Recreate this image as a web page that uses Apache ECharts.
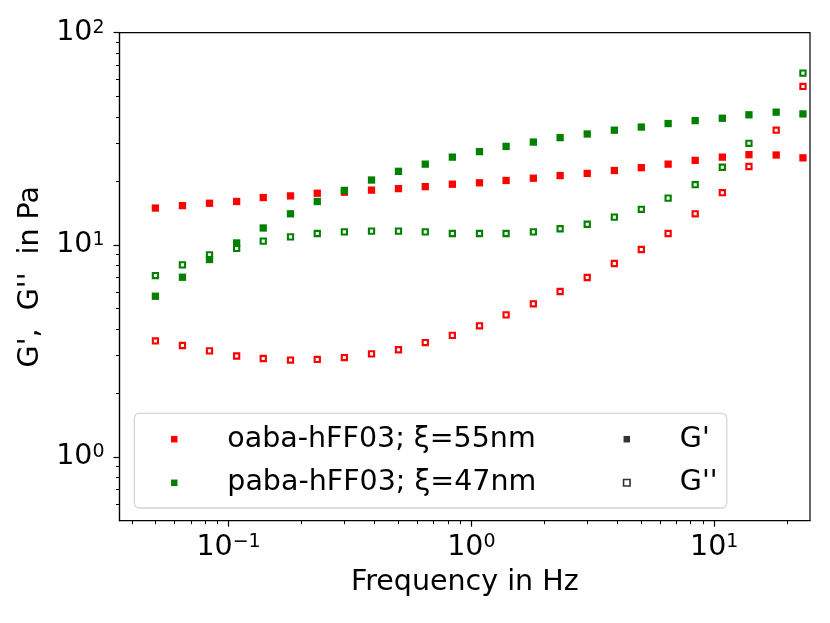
<!DOCTYPE html>
<html>
<head>
<meta charset="utf-8">
<script src="https://cdn.jsdelivr.net/npm/echarts@6.0.0/dist/echarts.min.js"></script>
<style>
  html, body { margin: 0; padding: 0; background: #fff; }
  #chart { width: 830px; height: 623px; }
</style>
</head>
<body>
<div id="chart"></div>
<script>
// frequency sweep (Hz)
var freq = [0.05, 0.0646, 0.0835, 0.108, 0.139, 0.18, 0.232, 0.3, 0.388, 0.501, 0.646, 0.835,
            1.08, 1.39, 1.8, 2.32, 3.0, 3.88, 5.01, 6.46, 8.35, 10.8, 13.9, 18.0, 23.2];

// oaba-hFF03 (red)
var oabaStorage = [14.9, 15.3, 15.7, 16.0, 16.7, 17.0, 17.5, 17.7, 18.1, 18.4, 18.8, 19.3,
                   19.6, 20.1, 20.6, 21.2, 21.7, 22.4, 23.1, 24.0, 25.0, 25.9, 26.6, 26.5, 25.7];
var oabaLoss = [3.52, 3.35, 3.16, 2.99, 2.91, 2.86, 2.88, 2.94, 3.06, 3.2, 3.46, 3.74,
                4.15, 4.67, 5.27, 6.02, 7.01, 8.16, 9.5, 11.3, 14.0, 17.6, 23.4, 34.7, 55.8];

// paba-hFF03 (green)
var pabaStorage = [5.72, 7.03, 8.52, 10.2, 12.0, 14.0, 16.0, 18.05, 20.2, 22.2, 24.0, 25.9,
                   27.5, 29.1, 30.5, 32.0, 33.3, 34.7, 35.9, 37.3, 38.5, 39.5, 41.0, 42.2, 41.4];
var pabaLoss = [7.16, 8.04, 8.97, 9.61, 10.4, 10.9, 11.3, 11.5, 11.6, 11.6, 11.5, 11.3,
                11.3, 11.3, 11.5, 11.9, 12.5, 13.5, 14.7, 16.6, 19.2, 23.2, 30.1, null, 64.5];

var xMajor = [0.1, 1, 10];
var xMinor = [0.04, 0.05, 0.06, 0.07, 0.08, 0.09, 0.2, 0.3, 0.4, 0.5, 0.6, 0.7, 0.8, 0.9,
              2, 3, 4, 5, 6, 7, 8, 9, 20];
var yMajor = [1, 10, 100];
var yMinor = [0.6, 0.7, 0.8, 0.9, 2, 3, 4, 5, 6, 7, 8, 9, 20, 30, 40, 50, 60, 70, 80, 90];

var FONT = 'DejaVu Sans';
var FS = 28.5;

function pairs(ys) {
    var res = [];
    for (var i = 0; i < freq.length; i++) {
        if (ys[i] != null) res.push([freq[i], ys[i]]);
    }
    return res;
}

function powLabel(v) {
    var e = Math.round(Math.log(v) / Math.LN10);
    return '{b|10}{s|' + (e < 0 ? '\u2212' + (-e) : e) + '}';
}
var powRich = {
    b: { fontFamily: FONT, fontSize: FS, color: '#000' },
    s: { fontFamily: FONT, fontSize: 19, color: '#000', verticalAlign: 'top' }
};

var myChart = echarts.init(document.getElementById('chart'));

var filled = function (name, color, data, z) {
    return {
        name: name, type: 'scatter', data: data, z: z,
        symbol: 'rect', symbolSize: 7.3,
        itemStyle: { color: color, opacity: 1 },
        emphasis: { disabled: true }, animation: false
    };
};
var open = function (name, color, data, z) {
    return {
        name: name, type: 'scatter', data: data, z: z,
        symbol: 'rect', symbolSize: 5.2,
        itemStyle: { color: '#fff', borderColor: color, borderWidth: 2.1, opacity: 1 },
        emphasis: { disabled: true }, animation: false
    };
};

var legendText = { fontFamily: FONT, fontSize: FS, color: '#000', lineHeight: 28, padding: [0, 0, 0, 44.8] };

var option = {
    backgroundColor: '#fff',
    animation: false,
    grid: {
        left: 119.5, top: 32.7, width: 690.5, height: 488,
        show: true, borderColor: '#000', borderWidth: 1.2, backgroundColor: 'transparent'
    },
    legend: [
        {
            // left block, frame stretched to cover the G', G'' block too
            orient: 'vertical', left: 134.3, top: 413.3,
            padding: [11.4, 190.4, 10.7, 36.7],
            itemWidth: 6.5, itemHeight: 6.5, itemGap: 14.6,
            backgroundColor: 'rgba(255,255,255,0.8)',
            borderColor: '#d6d6d6', borderWidth: 1.3, borderRadius: 5,
            selectedMode: false, icon: 'rect',
            textStyle: legendText,
            data: ['oaba-hFF03; \u03be=55nm', 'paba-hFF03; \u03be=47nm'],
            z: 5
        },
        {
            orient: 'vertical', left: 622.75, top: 424.7, padding: 0,
            itemWidth: 6.5, itemHeight: 6.5, itemGap: 14.6,
            selectedMode: false, icon: 'rect',
            textStyle: legendText,
            data: [
                { name: "G'" },
                { name: "G''", itemStyle: { color: '#fff', borderColor: '#000', borderWidth: 1.6 } }
            ],
            z: 6
        }
    ],
    xAxis: [
        {
            type: 'log', logBase: 10, min: 0.03557, max: 24.8, position: 'bottom',
            name: 'Frequency in Hz', nameLocation: 'middle', nameGap: 47,
            nameTextStyle: { fontFamily: FONT, fontSize: FS, color: '#000' },
            axisLine: { show: true, lineStyle: { color: '#000', width: 1.2 } },
            axisTick: { show: true, customValues: xMajor, length: 6, lineStyle: { color: '#000', width: 1.2 } },
            axisLabel: { customValues: xMajor, margin: 12, formatter: powLabel, rich: powRich },
            splitLine: { show: false }
        },
        {
            type: 'log', logBase: 10, min: 0.03557, max: 24.8, position: 'bottom', offset: 0,
            axisLine: { show: false },
            axisTick: { show: true, customValues: xMinor, length: 3.5, lineStyle: { color: '#000', width: 1 } },
            axisLabel: { show: false },
            splitLine: { show: false }
        }
    ],
    yAxis: [
        {
            type: 'log', logBase: 10, min: 0.5, max: 100, position: 'left',
            name: "G',  G''  in Pa", nameLocation: 'middle', nameGap: 72,
            nameTextStyle: { fontFamily: FONT, fontSize: FS, color: '#000' },
            axisLine: { show: true, lineStyle: { color: '#000', width: 1.2 } },
            axisTick: { show: true, customValues: yMajor, length: 6, lineStyle: { color: '#000', width: 1.2 } },
            axisLabel: { customValues: yMajor, margin: 15, formatter: powLabel, rich: powRich },
            splitLine: { show: false }
        },
        {
            type: 'log', logBase: 10, min: 0.5, max: 100, position: 'left', offset: 0,
            axisLine: { show: false },
            axisTick: { show: true, customValues: yMinor, length: 3.5, lineStyle: { color: '#000', width: 1 } },
            axisLabel: { show: false },
            splitLine: { show: false }
        }
    ],
    series: [
        filled('oaba-hFF03; \u03be=55nm', '#ff0000', pairs(oabaStorage), 2),
        open("oaba G''", '#ff0000', pairs(oabaLoss), 2),
        open("paba G''", '#008000', pairs(pabaLoss), 2),
        filled('paba-hFF03; \u03be=47nm', '#008000', pairs(pabaStorage), 2),
        // legend-only entries for the marker style
        { name: "G'", type: 'scatter', data: [], symbol: 'rect', itemStyle: { color: '#000' } },
        { name: "G''", type: 'scatter', data: [], symbol: 'rect',
          itemStyle: { color: '#fff', borderColor: '#000', borderWidth: 1.6 } }
    ]
};

myChart.setOption(option);
</script>
</body>
</html>
